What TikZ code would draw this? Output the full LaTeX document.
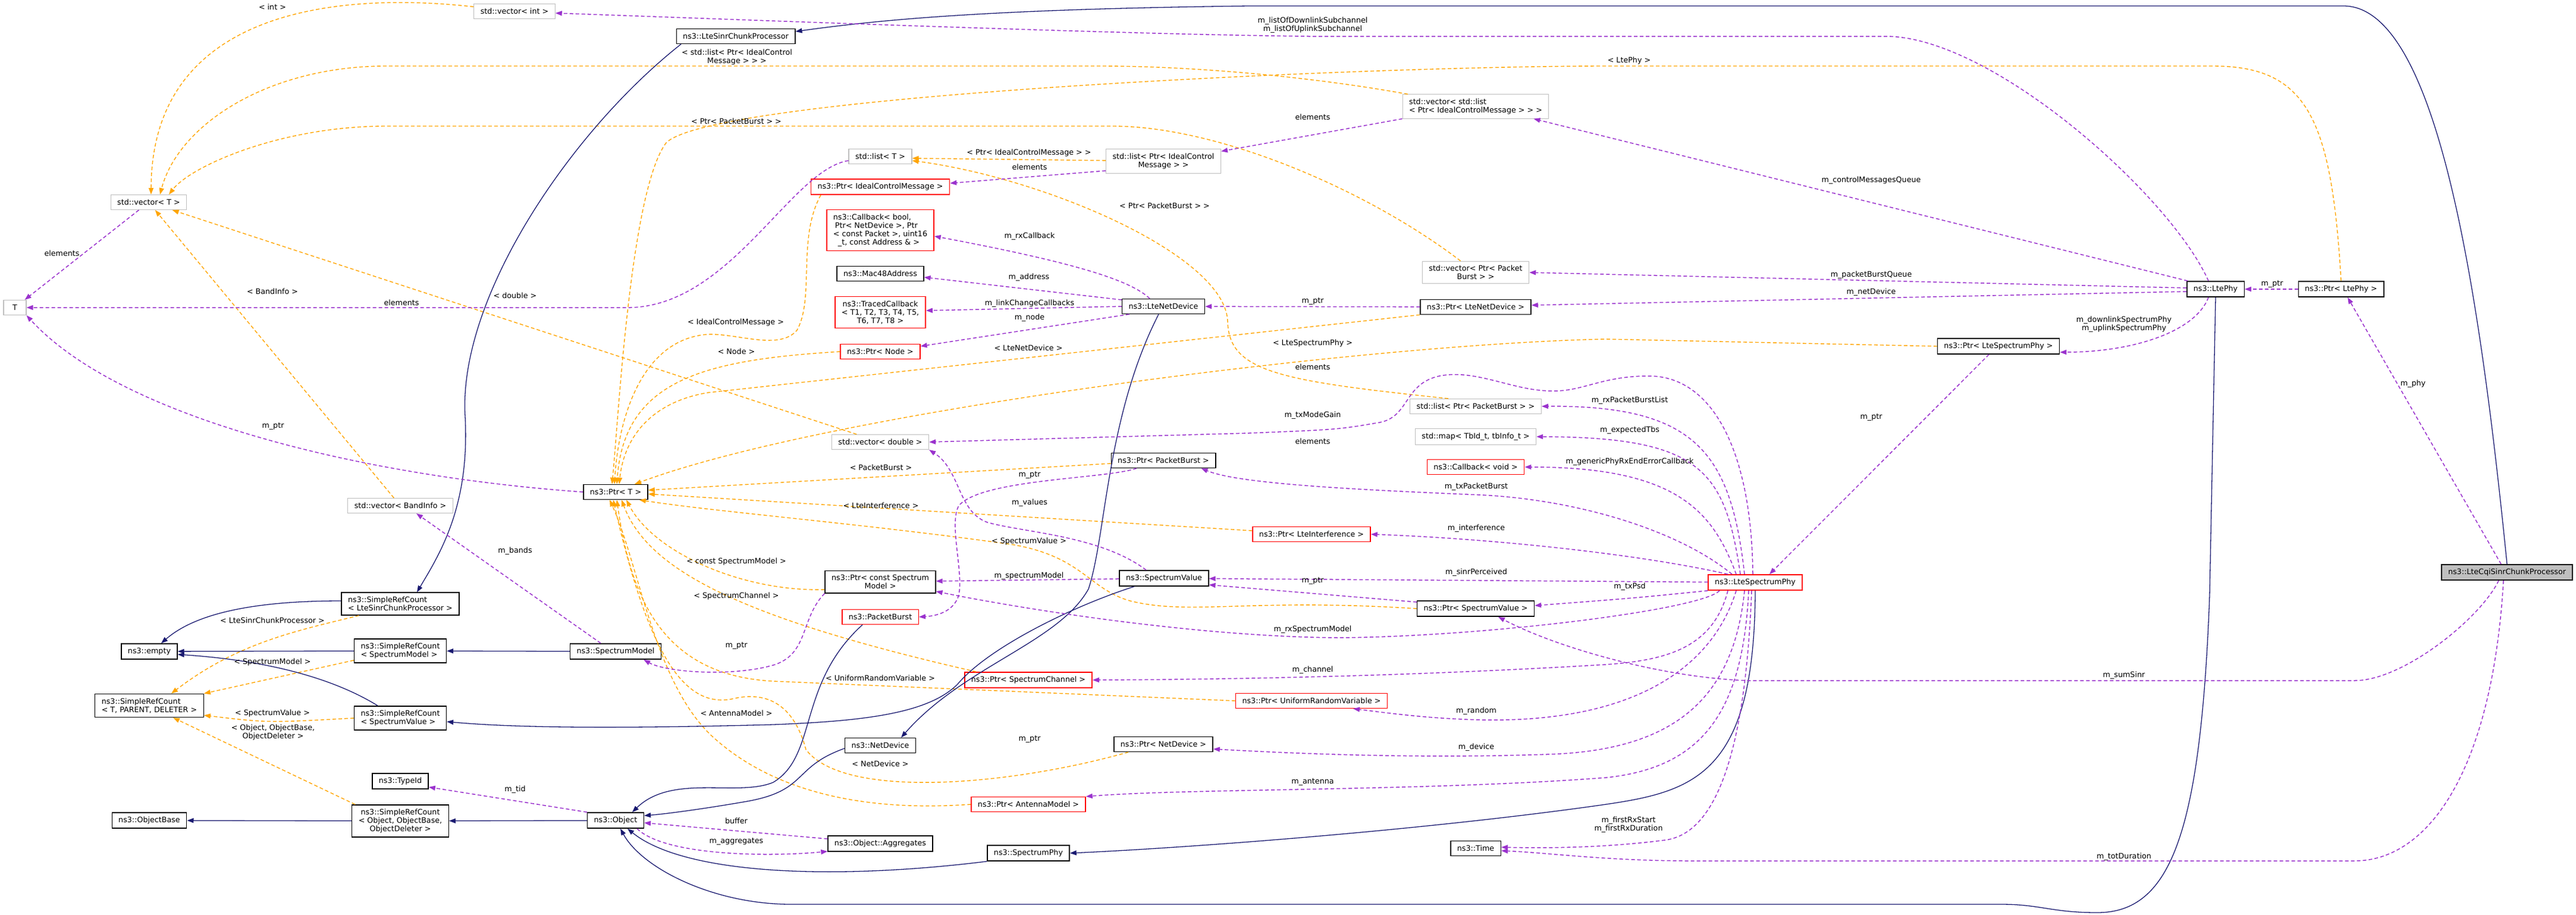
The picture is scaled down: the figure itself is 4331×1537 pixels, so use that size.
\documentclass[tikz,border=0pt]{standalone}
\usepackage{fontspec}
\setmainfont{DejaVu Sans}
\usetikzlibrary{arrows.meta}

\definecolor{dxpurple}{HTML}{9A32CD}
\definecolor{dxorange}{HTML}{FFA500}
\definecolor{dxblue}{HTML}{191970}
\definecolor{dxgrey}{HTML}{BFBFBF}

\tikzstyle{member} = [draw=dxpurple, line width=1.5pt, dash pattern=on 6pt off 4pt]
\tikzstyle{templ} = [draw=dxorange, line width=1.4pt, dash pattern=on 6pt off 4pt]
\tikzstyle{derive} = [draw=dxblue, line width=1.3pt]

\begin{document}
\begin{tikzpicture}[->,
          x = 1pt, y = -1pt, % one unit per pixel, y downwards
          > = {Triangle[length=11pt, width=8pt]}, % arrow head style
          shorten > = 0, % don't touch arrow head to node
          line width = 1.2pt,
          font = \fontsize{12.7}{14}\selectfont
      ]

      \tikzstyle{cls}=[
          draw = black,
          fill = white,
          line width = 1.4pt,
          inner xsep = 11pt,
          inner ysep = 7pt,
          minimum height = 25pt,
          minimum width = 38pt,
          align = center
      ]
      \tikzstyle{ext}=[cls, draw = dxgrey, line width = 1.1pt]
      \tikzstyle{bad}=[cls, draw = red]
      \tikzstyle{cur}=[cls, fill = dxgrey]
      \tikzstyle{lbl}=[inner sep = 0pt, align = center]

  \useasboundingbox (0,0) rectangle (4331,1537);

  % Draw the vertices.
  \node[ext] (t) at (25,517) {T};
  \node[ext] (vt) at (250,340) {std::vector< T >};
  \node[ext] (vint) at (865,19) {std::vector< int >};
  \node[cls] (lscp) at (1237,61) {ns3::LteSinrChunkProcessor};
  \node[ext] (lt) at (1480,263) {std::list< T >};
  \node[ext] (licm) at (1956,271) {std::list< Ptr< IdealControl\\Message > >};
  \node[bad] (picm) at (1480,314) {ns3::Ptr< IdealControlMessage >};
  \node[bad, align=left] (cbb) at (1480,387) {ns3::Callback< bool,\\\hspace*{3pt}Ptr< NetDevice >, Ptr\\< const Packet >, uint16\\\hspace*{8pt}\_t, const Address \& >};
  \node[cls] (mac) at (1480,460) {ns3::Mac48Address};
  \node[bad] (tcb) at (1480,525) {ns3::TracedCallback\\< T1, T2, T3, T4, T5,\\T6, T7, T8 >};
  \node[cls] (lnd) at (1956,515) {ns3::LteNetDevice};
  \node[bad] (pnode) at (1480,591) {ns3::Ptr< Node >};
  \node[ext] (vd) at (1480,743) {std::vector< double >};
  \node[cls] (ppb) at (1956,774) {ns3::Ptr< PacketBurst >};
  \node[cls] (pt) at (1035,827) {ns3::Ptr< T >};
  \node[cls] (pcsm) at (1480,978) {ns3::Ptr< const Spectrum\\Model >};
  \node[cls] (sv) at (1957,972) {ns3::SpectrumValue};
  \node[bad] (pb) at (1480,1037) {ns3::PacketBurst};
  \node[ext] (vbi) at (673,850) {std::vector< BandInfo >};
  \node[cls, align=left] (srclscp) at (673,1015) {ns3::SimpleRefCount\\< LteSinrChunkProcessor >};
  \node[cls] (empty) at (251,1095) {ns3::empty};
  \node[cls, align=left] (srcsm) at (673,1094) {ns3::SimpleRefCount\\< SpectrumModel >};
  \node[cls] (sm) at (1035,1095) {ns3::SpectrumModel};
  \node[cls, align=left] (srct) at (251,1186) {ns3::SimpleRefCount\\< T, PARENT, DELETER >};
  \node[cls, align=left] (srcsv) at (673,1207) {ns3::SimpleRefCount\\< SpectrumValue >};
  \node[cls] (tid) at (673,1313) {ns3::TypeId};
  \node[cls] (ob) at (251,1379) {ns3::ObjectBase};
  \node[cls] (srco) at (673,1380) {ns3::SimpleRefCount\\< Object, ObjectBase,\\ObjectDeleter >};
  \node[cls] (obj) at (1035,1379) {ns3::Object};
  \node[bad] (psc) at (1729,1143) {ns3::Ptr< SpectrumChannel >};
  \node[cls] (nd) at (1480,1253) {ns3::NetDevice};
  \node[cls] (pnd) at (1956,1251) {ns3::Ptr< NetDevice >};
  \node[bad] (pam) at (1729,1352) {ns3::Ptr< AntennaModel >};
  \node[cls] (agg) at (1480,1418) {ns3::Object::Aggregates};
  \node[cls] (sp) at (1729,1434) {ns3::SpectrumPhy};
  \node[ext, align=left] (vlicm) at (2481,179) {std::vector< std::list\\< Ptr< IdealControlMessage > > >};
  \node[ext] (vppb) at (2481,458) {std::vector< Ptr< Packet\\Burst > >};
  \node[cls] (plnd) at (2481,516) {ns3::Ptr< LteNetDevice >};
  \node[ext] (lpb) at (2481,683) {std::list< Ptr< PacketBurst > >};
  \node[ext] (tbs) at (2481,734) {std::map< TbId\_t, tbInfo\_t >};
  \node[bad] (cbv) at (2481,785) {ns3::Callback< void >};
  \node[bad] (pli) at (2205,898) {ns3::Ptr< LteInterference >};
  \node[bad] (lsp) at (2951,979) {ns3::LteSpectrumPhy};
  \node[cls] (psv) at (2481,1023) {ns3::Ptr< SpectrumValue >};
  \node[bad] (purv) at (2205,1178) {ns3::Ptr< UniformRandomVariable >};
  \node[cls] (time) at (2481,1426) {ns3::Time};
  \node[cls] (lphy) at (3725,486) {ns3::LtePhy};
  \node[cls] (plphy) at (3936,486) {ns3::Ptr< LtePhy >};
  \node[cls] (plsp) at (3360,582) {ns3::Ptr< LteSpectrumPhy >};
  \node[cur] (cqi) at (4215,962) {ns3::LteCqiSinrChunkProcessor};

  % Connect vertices with edges
  % template arguments
  \draw[templ] (vint) .. controls (560,-15) and (255,20) .. ([xshift=4pt]vt.north);
  \draw[templ] (vlicm) .. controls (2200,128) and (2000,111) .. (1850,111) -- (650,111) .. controls (450,111) and (300,210) .. ([xshift=19pt]vt.north);
  \draw[templ] (vppb) .. controls (2300,320) and (2050,212) .. (1870,212) -- (650,212) .. controls (470,212) and (320,280) .. ([xshift=34pt]vt.north);
  \path (vbi) edge[templ] (vt);
  \path (vd) edge[templ] (vt);
  \path (licm) edge[templ] ([yshift=-3pt]lt.east);
  \draw[templ] ([xshift=-46pt]lpb.north) .. controls (2150,640) and (2066,625) .. (2064,540) .. controls (2060,430) and (1760,300) .. ([yshift=-7pt]lt.east);

  \draw[templ] ([xshift=-100pt]picm.south) .. controls (1340,400) and (1370,500) .. (1340,555) .. controls (1310,590) and (1240,560) .. (1190,562) .. controls (1080,570) and (1040,700) .. ([xshift=-2pt]pt.north);
  \draw[templ] (pnode.west) .. controls (1180,605) and (1050,640) .. ([xshift=2pt]pt.north);
  \draw[templ] (plnd.south west) -- (1190,660) .. controls (1100,675) and (1050,730) .. ([xshift=6pt]pt.north);
  \draw[templ] (plsp.west) -- (2700,570) .. controls (2300,578) and (1400,690) .. ([xshift=32pt]pt.north);
  \draw[templ] (plphy.north) .. controls (3920,200) and (3880,111) .. (3720,111) -- (2700,111) .. controls (2300,111) and (1200,160) .. (1120,240) .. controls (1060,320) and (1040,700) .. ([xshift=-6pt]pt.north);
  \path (ppb) edge[templ] (pt);
  \path (pli) edge[templ] (pt);
  \draw[templ] (psv.west) .. controls (2100,1005) and (2000,1035) .. (1900,1010) .. controls (1830,990) and (1820,935) .. (1700,915) .. controls (1450,880) and (1200,860) .. ([xshift=-15pt]pt.south east);
  \draw[templ] ([yshift=-13pt]pcsm.west) .. controls (1250,995) and (1100,930) .. ([xshift=18pt]pt.south);
  \draw[templ] ([xshift=20pt]psc.north west) .. controls (1250,1040) and (1090,960) .. ([xshift=10pt]pt.south);
  \draw[templ] (purv.west) -- (1300,1145) .. controls (1110,1135) and (1060,1000) .. ([xshift=2pt]pt.south);
  \draw[templ] ([xshift=25pt]pnd.south west) .. controls (1700,1320) and (1420,1345) .. (1355,1260) .. controls (1335,1185) and (1290,1160) .. (1230,1175) .. controls (1150,1190) and (1090,1100) .. ([xshift=-4pt]pt.south);
  \draw[templ] (pam.west) .. controls (1450,1365) and (1300,1330) .. (1200,1240) .. controls (1100,1150) and (1075,950) .. ([xshift=-10pt]pt.south);

  \draw[templ] ([xshift=30pt]srclscp.south west) .. controls (500,1060) and (400,1080) .. ([xshift=37pt]srct.north);
  \draw[templ] ([yshift=5pt]srcsm.south west) -- (srct.north east);
  \draw[templ] (srcsv.west) .. controls (450,1215) .. ([yshift=4pt]srct.south east);
  \draw[templ] ([xshift=6pt]srco.north west) -- ([xshift=40pt]srct.south);

  % base classes
  \draw[derive] ([yshift=5pt]srclscp.west) .. controls (430,1010) and (330,1030) .. ([xshift=20pt]empty.north);
  \path (srcsm) edge[derive] (empty);
  \draw[derive] ([xshift=-38pt]srcsv.north) .. controls (560,1140) and (450,1110) .. ([yshift=-5pt]empty.east);
  \path (sm) edge[derive] (srcsm);
  \draw[derive] ([xshift=-50pt]sv.south) .. controls (1800,1020) and (1660,1090) .. (1610,1150) .. controls (1560,1200) and (1450,1212) .. (1300,1218) .. controls (1000,1226) and (850,1222) .. ([yshift=-6pt]srcsv.east);
  \draw[derive] ([xshift=-8pt]lnd.south) .. controls (1860,700) and (1860,900) .. (1830,990) .. controls (1780,1080) and (1620,1120) .. ([xshift=35pt]nd.north);
  \draw[derive] ([yshift=-5pt]nd.west) .. controls (1330,1290) and (1360,1330) .. (1250,1348) .. controls (1180,1360) and (1120,1368) .. ([yshift=8pt]obj.east);
  \draw[derive] ([xshift=-30pt]pb.south) .. controls (1340,1150) and (1375,1270) .. (1300,1315) .. controls (1240,1340) and (1130,1300) .. ([xshift=28pt]obj.north);
  \draw[derive] (sp.south west) .. controls (1400,1480) and (1150,1470) .. ([xshift=20pt]obj.south);
  \draw[derive] (lsp.south) .. controls (2950,1300) and (2850,1330) .. (2700,1352) .. controls (2400,1395) and (2000,1425) .. (sp.east);
  \draw[derive] (lphy.south) -- (3715,1000) .. controls (3700,1400) and (3650,1534) .. (3526,1534) .. controls (3450,1534) and (3430,1520) .. (3365,1520) -- (1330,1520) .. controls (1200,1520) and (1080,1460) .. ([xshift=8pt]obj.south);
  \draw[derive] ([xshift=-92pt]lscp.south) .. controls (960,220) and (770,500) .. (782,700) .. controls (790,850) and (740,930) .. ([xshift=28pt]srclscp.north);
  \path (obj) edge[derive] (srco);
  \path (srco) edge[derive] (ob);
  \draw[derive] (cqi.north) .. controls (4170,500) and (4100,10) .. (3940,10) -- (2100,10) .. controls (1700,15) and (1500,30) .. ([yshift=8pt]lscp.east);

  % members
  \path (vt) edge[member] (t);
  \draw[member] ([yshift=-7pt]lt.west) .. controls (1330,285) and (1230,512) .. (1060,517) -- (t.east);
  \draw[member] (pt.west) .. controls (600,800) and (200,700) .. (t.south east);
  \draw[member] ([xshift=-12pt]lphy.north) .. controls (3650,330) and (3350,61) .. (3170,61) -- (2200,61) .. controls (1900,58) and (1300,35) .. ([yshift=-3pt]vint.east);
  \draw[member] ([xshift=2pt]lphy.north west) -- ([xshift=-26pt]vlicm.south east);
  \draw[member] (vlicm.south west) -- ([yshift=-4pt]licm.north east);
  \draw[member] ([yshift=-16pt]licm.west) -- ([yshift=6pt]picm.east);
  \draw[member] ([yshift=2pt]lphy.west) -- (vppb.east);
  \draw[member] ([yshift=-4pt]lphy.west) -- ([yshift=3pt]plnd.east);
  \path (plphy) edge[member] (lphy);
  \draw[member] ([xshift=-12pt]lphy.south) .. controls (3690,560) and (3580,592) .. ([yshift=-10pt]plsp.east);
  \draw[member] ([xshift=-16pt]plsp.south) -- ([xshift=24pt]lsp.north);
  \draw[member] ([xshift=-10pt]cqi.north) -- ([xshift=11pt]plphy.south);
  \draw[member] ([xshift=-14pt]cqi.south) .. controls (4170,1040) and (4040,1144) .. (3959,1144) -- (2940,1144) .. controls (2800,1140) and (2620,1090) .. ([xshift=38pt]psv.south);
  \draw[member] ([xshift=-6pt]cqi.south) .. controls (4190,1300) and (4080,1447) .. (3959,1447) -- (2842,1447) .. controls (2700,1447) and (2600,1433) .. ([yshift=-4pt]time.east);

  \draw[member] ([xshift=-23pt]lnd.north) .. controls (1900,470) and (1800,440) .. ([yshift=-10pt]cbb.east);
  \draw[member] ([yshift=11pt]lnd.west) -- ([yshift=-6pt]mac.east);
  \draw[member] (lnd.west) -- ([yshift=3pt]tcb.east);
  \draw[member] ([xshift=13pt]lnd.south west) -- ([yshift=9pt]pnode.east);
  \path (plnd) edge[member] (lnd);

  \draw[member] ([xshift=-18pt]lsp.north) .. controls (2910,760) and (2850,681) .. (lpb.east);
  \draw[member] ([xshift=-25pt]lsp.north) .. controls (2900,790) and (2860,735) .. (tbs.east);
  \draw[member] ([xshift=-32pt]lsp.north) .. controls (2880,860) and (2820,785) .. (cbv.east);
  \draw[member] ([xshift=-39pt]lsp.north) .. controls (2820,890) and (2650,840) .. (2491,832) .. controls (2250,822) and (2080,812) .. ([xshift=-25pt]ppb.south east);
  \draw[member] ([xshift=-46pt]lsp.north) .. controls (2750,930) and (2500,905) .. (pli.east);
  \path (lsp) edge[member] (sv);
  \draw[member] (lsp.south west) .. controls (2750,1005) .. ([yshift=5pt]psv.east);
  \draw[member] ([xshift=-4pt]lsp.north) .. controls (2945,760) and (2880,632) .. (2772,632) .. controls (2690,632) and (2660,660) .. (2603,657) .. controls (2540,655) and (2480,620) .. (2420,632) .. controls (2360,645) and (2370,700) .. (2320,710) .. controls (2250,722) .. (2100,728) -- (vd.east);
  \path (sv) edge[member] (pcsm);
  \draw[member] ([xshift=-30pt]sv.north) .. controls (1850,900) and (1720,895) .. (1660,878) .. controls (1610,860) and (1615,790) .. (vd.south east);
  \draw[member] ([xshift=-45pt]ppb.south) .. controls (1860,805) and (1650,805) .. (1612,850) .. controls (1595,880) and (1620,960) .. (1612,1000) .. controls (1605,1025) and (1580,1035) .. (pb.east);
  \draw[member] (pcsm.south west) .. controls (1345,1040) and (1360,1100) .. (1300,1118) .. controls (1230,1138) and (1120,1130) .. ([xshift=-30pt]sm.south east);
  \draw[member] ([xshift=-25pt]sm.north) -- ([xshift=27pt]vbi.south);
  \draw[member] ([yshift=11pt]psv.west) -- ([yshift=-11pt]sv.east);
  \draw[member] ([xshift=-46pt]lsp.south) .. controls (2880,1090) and (2800,1110) .. (2700,1117) .. controls (2400,1135) and (2100,1142) .. (psc.east);
  \draw[member] ([xshift=-60pt]lsp.south) .. controls (2860,1025) and (2500,1070) .. (2250,1072) .. controls (2000,1070) and (1700,1020) .. ([yshift=-16pt]pcsm.east);
  \draw[member] ([xshift=-32pt]lsp.south) .. controls (2880,1120) and (2750,1215) .. (2491,1210) .. controls (2400,1208) and (2330,1198) .. ([xshift=70pt]purv.south);
  \draw[member] ([xshift=-18pt]lsp.south) .. controls (2915,1170) and (2820,1262) .. (2600,1268) .. controls (2400,1275) and (2200,1268) .. ([yshift=-8pt]pnd.east);
  \draw[member] ([xshift=-11pt]lsp.south) .. controls (2930,1200) and (2860,1290) .. (2701,1307) .. controls (2400,1330) and (2000,1325) .. (pam.north east);
  \draw[member] ([xshift=-6pt]lsp.south) .. controls (2935,1250) and (2890,1400) .. (2800,1412) .. controls (2700,1425) and (2600,1426) .. ([yshift=2pt]time.east);

  \draw[member] (obj.north west) -- ([yshift=-10pt]tid.east);
  \draw[member] ([yshift=8pt]agg.west) -- ([yshift=-4pt]obj.east);
  \draw[member] ([xshift=-12pt]obj.south east) .. controls (1120,1440) and (1300,1440) .. ([yshift=-13pt]agg.west);

  % Edge labels
  \node[lbl] (l1) at (458,12) {< int >};
  \node[lbl] (l2) at (104,426) {elements};
  \node[lbl] (l3) at (458,490) {< BandInfo >};
  \node[lbl] (l4) at (866,497) {< double >};
  \node[lbl] (l5) at (675,509) {elements};
  \node[lbl] (l6) at (1239,96) {< std::list< Ptr< IdealControl\\Message > > >};
  \node[lbl] (l7) at (1238,204) {< Ptr< PacketBurst > >};
  \node[lbl] (l8) at (1730,257) {< Ptr< IdealControlMessage > >};
  \node[lbl] (l9) at (1731,281) {elements};
  \node[lbl] (l10) at (1958,346) {< Ptr< PacketBurst > >};
  \node[lbl] (l11) at (1731,397) {m\_rxCallback};
  \node[lbl] (l12) at (1730,466) {m\_address};
  \node[lbl] (l13) at (1731,510) {m\_linkChangeCallbacks};
  \node[lbl] (l14) at (1731,534) {m\_node};
  \node[lbl] (l15) at (1237,542) {< IdealControlMessage >};
  \node[lbl] (l16) at (1238,591) {< Node >};
  \node[lbl] (l17) at (1729,585) {< LteNetDevice >};
  \node[lbl] (l18) at (1481,786) {< PacketBurst >};
  \node[lbl] (l19) at (1731,799) {m\_ptr};
  \node[lbl] (l20) at (1481,850) {< LteInterference >};
  \node[lbl] (l21) at (1731,845) {m\_values};
  \node[lbl] (l22) at (1730,910) {< SpectrumValue >};
  \node[lbl] (l23) at (1238,944) {< const SpectrumModel >};
  \node[lbl] (l24) at (1730,968) {m\_spectrumModel};
  \node[lbl] (l25) at (1238,1002) {< SpectrumChannel >};
  \node[lbl] (l26) at (459,717) {m\_ptr};
  \node[lbl] (l27) at (866,926) {m\_bands};
  \node[lbl] (l28) at (458,1043) {< LteSinrChunkProcessor >};
  \node[lbl] (l29) at (458,1113) {< SpectrumModel >};
  \node[lbl] (l30) at (458,1199) {< SpectrumValue >};
  \node[lbl] (l31) at (459,1231) {< Object, ObjectBase,\\ObjectDeleter >};
  \node[lbl] (l32) at (866,1327) {m\_tid};
  \node[lbl] (l33) at (1238,1086) {m\_ptr};
  \node[lbl] (l34) at (1480,1140) {< UniformRandomVariable >};
  \node[lbl] (l35) at (1238,1199) {< AntennaModel >};
  \node[lbl] (l36) at (1731,1243) {m\_ptr};
  \node[lbl] (l37) at (1480,1284) {< NetDevice >};
  \node[lbl] (l38) at (1238,1380) {buffer};
  \node[lbl] (l39) at (1238,1415) {m\_aggregates};
  \node[lbl] (l40) at (2207,507) {m\_ptr};
  \node[lbl] (l41) at (2207,577) {< LteSpectrumPhy >};
  \node[lbl] (l42) at (2207,617) {elements};
  \node[lbl] (l43) at (2740,673) {m\_rxPacketBurstList};
  \node[lbl] (l44) at (2207,698) {m\_txModeGain};
  \node[lbl] (l45) at (2740,723) {m\_expectedTbs};
  \node[lbl] (l46) at (2207,742) {elements};
  \node[lbl] (l47) at (2740,776) {m\_genericPhyRxEndErrorCallback};
  \node[lbl] (l48) at (2482,818) {m\_txPacketBurst};
  \node[lbl] (l49) at (2482,888) {m\_interference};
  \node[lbl] (l50) at (2482,962) {m\_sinrPerceived};
  \node[lbl] (l51) at (2207,977) {m\_ptr};
  \node[lbl] (l52) at (2740,986) {m\_txPsd};
  \node[lbl] (l53) at (2207,42) {m\_listOfDownlinkSubchannel\\m\_listOfUplinkSubchannel};
  \node[lbl] (l54) at (2739,102) {< LtePhy >};
  \node[lbl] (l55) at (2207,197) {elements};
  \node[lbl] (l56) at (3146,303) {m\_controlMessagesQueue};
  \node[lbl] (l57) at (3146,462) {m\_packetBurstQueue};
  \node[lbl] (l58) at (3146,491) {m\_netDevice};
  \node[lbl] (l59) at (3820,478) {m\_ptr};
  \node[lbl] (l60) at (3571,545) {m\_downlinkSpectrumPhy\\m\_uplinkSpectrumPhy};
  \node[lbl] (l61) at (3146,702) {m\_ptr};
  \node[lbl] (l62) at (4057,645) {m\_phy};
  \node[lbl] (l63) at (2207,1058) {m\_rxSpectrumModel};
  \node[lbl] (l64) at (2207,1126) {m\_channel};
  \node[lbl] (l65) at (2482,1195) {m\_random};
  \node[lbl] (l66) at (2482,1256) {m\_device};
  \node[lbl] (l67) at (2207,1315) {m\_antenna};
  \node[lbl] (l68) at (2738,1386) {m\_firstRxStart\\m\_firstRxDuration};
  \node[lbl] (l69) at (3571,1135) {m\_sumSinr};
  \node[lbl] (l70) at (3571,1440) {m\_totDuration};
\end{tikzpicture}
\end{document}
